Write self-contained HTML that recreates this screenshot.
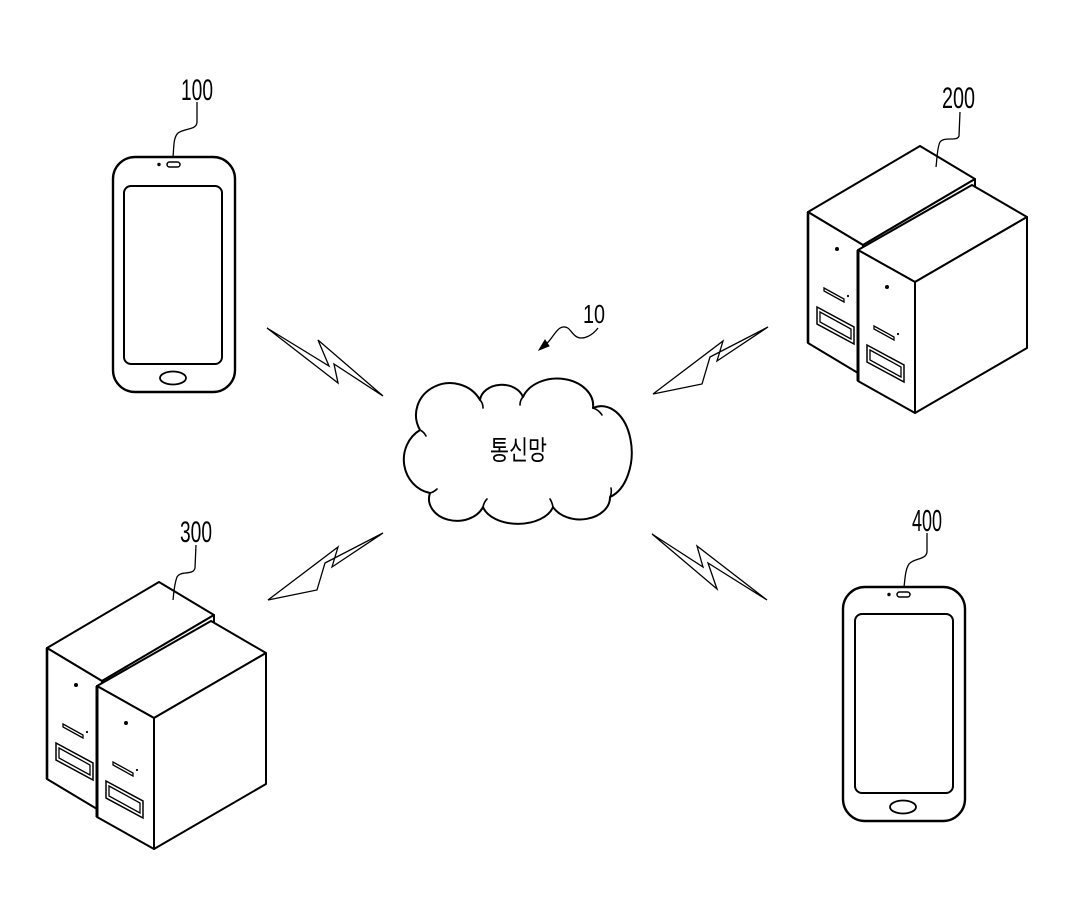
<!DOCTYPE html>
<html>
<head>
<meta charset="utf-8">
<style>
  html,body{margin:0;padding:0;background:#fff;}
  body{width:1075px;height:904px;overflow:hidden;}
  svg{display:block;}
  .lbl{font-family:"Liberation Sans Narrow","Liberation Sans",sans-serif;fill:#000;}
  .kr{font-family:"Liberation Sans","Noto Sans CJK KR","NanumGothic",sans-serif;fill:#000;}
</style>
</head>
<body>
<svg width="1075" height="904" viewBox="0 0 1075 904" xmlns="http://www.w3.org/2000/svg">
  <rect width="1075" height="904" fill="#fff"/>

  <!-- ===== Phone 100 ===== -->
  <g stroke="#000" fill="none" stroke-linejoin="round">
    <rect x="113" y="157" width="122" height="235" rx="22" ry="22" stroke-width="2.4" fill="#fff"/>
    <rect x="124" y="186" width="98" height="178" rx="7" ry="7" stroke-width="2"/>
    <rect x="167" y="162" width="13" height="5" rx="2.5" ry="2.5" stroke-width="1.5"/>
    <ellipse cx="173" cy="378" rx="13" ry="6.5" stroke-width="1.8"/>
    <path d="M197,102 L197,122 C197,130 185,128 178,133 C173,138 174,148 173,157" stroke-width="1.3"/>
  </g>
  <circle cx="159" cy="164.5" r="1.7" fill="#000"/>
  <text class="lbl" x="181" y="100" font-size="30" textLength="32" lengthAdjust="spacingAndGlyphs">100</text>

  <!-- ===== Phone 400 ===== -->
  <g stroke="#000" fill="none" stroke-linejoin="round">
    <rect x="843" y="587" width="122" height="234" rx="22" ry="22" stroke-width="2.4" fill="#fff"/>
    <rect x="855" y="614" width="98" height="179" rx="7" ry="7" stroke-width="2"/>
    <rect x="897" y="592" width="13" height="5" rx="2.5" ry="2.5" stroke-width="1.5"/>
    <ellipse cx="903" cy="807" rx="13" ry="6.5" stroke-width="1.8"/>
    <path d="M927,533 L927,552 C926,560 914,558 909,564 C905,570 905,580 904,587" stroke-width="1.3"/>
  </g>
  <circle cx="889" cy="594.5" r="1.7" fill="#000"/>
  <text class="lbl" x="912" y="531" font-size="31" textLength="30" lengthAdjust="spacingAndGlyphs">400</text>

  <!-- ===== Server group definition (drawn at 200 position) ===== -->
  <defs>
    <g id="srv">
      <g stroke="#000" stroke-width="2" fill="#fff" stroke-linejoin="round">
        <!-- back box -->
        <polygon points="808,212 920,146 975,179 863,245"/>
        <polygon points="863,245 975,179 975,310 863,376"/>
        <polygon points="808,212 863,245 863,376 808,343"/>
        <!-- front box -->
        <polygon points="858,250 972,185 1027,217 915,282"/>
        <polygon points="915,282 1027,217 1027,348 915,413"/>
        <polygon points="858,250 915,282 915,413 858,381"/>
      </g>
      <line x1="858" y1="250" x2="858" y2="381" stroke="#000" stroke-width="3"/>
      <line x1="808" y1="212" x2="808" y2="343" stroke="#000" stroke-width="2.6"/>
      <!-- back box details -->
      <circle cx="837" cy="249" r="2" fill="#000"/>
      <polygon points="824,288 844,299 844,302 824,291" fill="none" stroke="#000" stroke-width="1.3"/>
      <circle cx="848" cy="296" r="1.1" fill="#000"/>
      <polygon points="817,307 854,327 854,344 817,324" fill="none" stroke="#000" stroke-width="1.5"/>
      <polygon points="820,312 851,329 851,339 820,322" fill="none" stroke="#000" stroke-width="1.3"/>
      <!-- front box details -->
      <circle cx="887" cy="287" r="2" fill="#000"/>
      <polygon points="874,326 894,337 894,340 874,329" fill="none" stroke="#000" stroke-width="1.3"/>
      <circle cx="898" cy="334" r="1.1" fill="#000"/>
      <polygon points="867,345 904,365 904,382 867,362" fill="none" stroke="#000" stroke-width="1.5"/>
      <polygon points="870,350 901,367 901,377 870,360" fill="none" stroke="#000" stroke-width="1.3"/>
    </g>
  </defs>

  <!-- ===== Server 200 ===== -->
  <use href="#srv"/>
  <path d="M960,112 L959,136 C957,142 945,136 940,142 C937,148 937,160 936,167" fill="none" stroke="#000" stroke-width="1.3"/>
  <text class="lbl" x="942" y="108" font-size="30" textLength="33" lengthAdjust="spacingAndGlyphs">200</text>

  <!-- ===== Server 300 ===== -->
  <use href="#srv" transform="translate(-761,436)"/>
  <path d="M196,545 L195,568 C193,576 181,570 177,577 C174,585 174,592 173,600" fill="none" stroke="#000" stroke-width="1.3"/>
  <text class="lbl" x="180" y="542" font-size="30" textLength="32" lengthAdjust="spacingAndGlyphs">300</text>

  <!-- ===== Lightning bolts ===== -->
  <g fill="#fff" stroke="#000" stroke-width="1.3" stroke-linejoin="miter">
    <polygon points="267,328 329,366 318,340 383,396 334,364 338,383"/>
    <polygon points="653,394 723,341 717,361 768,327 710,357 702,384"/>
    <polygon points="268,600 338,547 332,567 383,533 325,563 317,590"/>
    <polygon points="652,534 703,567 697,546 767,600 708,563 717,589"/>
  </g>

  <!-- ===== Cloud ===== -->
  <path d="M420,430
           A32,30 0 0 1 480,400
           A22,17 0 0 1 523,397
           A36,27 0 0 1 593,408
           A30,46 0 0 1 610,497
           A30,22 0 0 1 553,507
           A36,22 0 0 1 483,507
           A28,22 0 0 1 430,493
           A32,34 0 0 1 420,430 Z"
        fill="#fff" stroke="#000" stroke-width="2" stroke-linejoin="round"/>
  <g fill="none" stroke="#000" stroke-width="1.6" stroke-linecap="round">
    <path d="M480,400 q3,3 3,8"/>
    <path d="M523,397 q-3,3 -3,8"/>
    <path d="M593,408 q6,2 9,7"/>
    <path d="M610,497 q2,-4 1,-9"/>
    <path d="M553,507 q-1,-5 -3,-8"/>
    <path d="M483,507 q1,-5 4,-8"/>
    <path d="M430,493 q4,-1 7,-4"/>
    <path d="M420,430 q4,2 6,6"/>
  </g>
  <text class="kr" x="490" y="460" font-size="27" textLength="57" lengthAdjust="spacingAndGlyphs">통신망</text>

  <!-- ===== Label 10 with arrow ===== -->
  <path d="M598,328 C592,336 583,340 577,337 C571,334 570,326 563,327 C556,328 552,340 545,345" fill="none" stroke="#000" stroke-width="1.3"/>
  <polygon points="539,350 545,340 549,346" fill="#000" stroke="#000" stroke-width="1"/>
  <text class="lbl" x="583" y="323" font-size="26" textLength="22" lengthAdjust="spacingAndGlyphs">10</text>
</svg>
</body>
</html>
